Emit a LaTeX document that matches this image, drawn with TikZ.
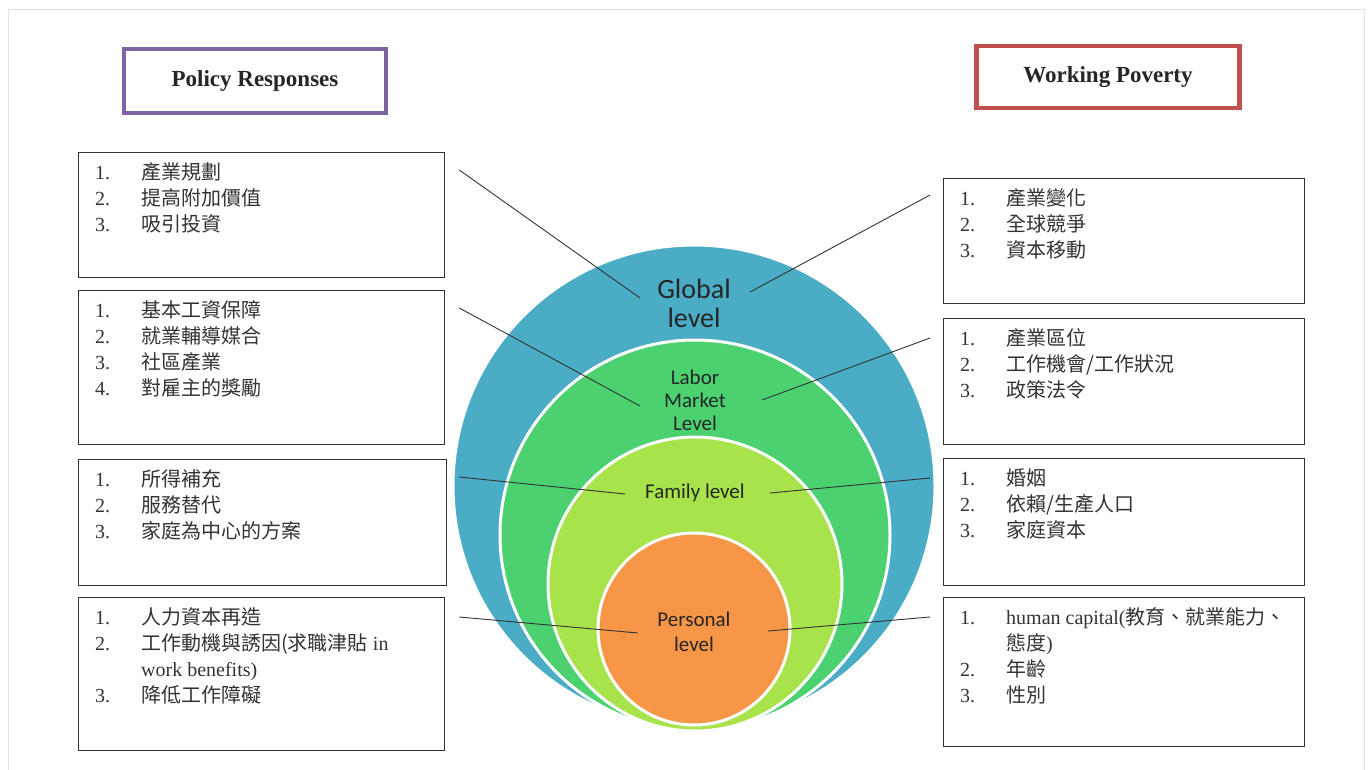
\documentclass[tikz,border=0pt]{standalone}
\usepackage{fontspec}
\setmainfont{Liberation Serif}
\newfontfamily\cjk{Noto Sans CJK TC}
\newfontfamily\calibri{Carlito}
\definecolor{globalblue}{HTML}{4BACC6}
\definecolor{laborgreen}{HTML}{4BD170}
\definecolor{familygreen}{HTML}{A8E34C}
\definecolor{personalorange}{HTML}{F79646}
\definecolor{policypurple}{HTML}{8064A2}
\definecolor{povertyred}{HTML}{C0504D}

\begin{document}
\begin{tikzpicture}
    [
      x=1pt,y=-1pt,
      listbox/.style={draw=black!80,line width=1.3pt,rectangle,anchor=north west,
        inner sep=0pt},
      listtext/.style={anchor=north west,inner sep=0pt,text=black!80,
        font=\fontsize{20}{26}\selectfont},
      titlebox/.style={rectangle,line width=4.5pt,fill=white,
        font=\bfseries\fontsize{23}{26}\selectfont,text=black!85},
      level/.style={circle,draw=white,line width=3pt,inner sep=0pt},
      leveltext/.style={align=center,inner sep=0pt,text=black!85},
      link/.style={draw=black!80,line width=0.9pt}
    ]

    \useasboundingbox (0,0) rectangle (1371,769);
    \draw [black!12,line width=1pt] (8,9) rectangle (1364,790);

    % titles
    \node at (255,81) [titlebox,draw=policypurple,minimum width=262,minimum height=64] (policy) {Policy Responses};
    \node at (1108,77) [titlebox,draw=povertyred,minimum width=263,minimum height=62] (poverty) {Working Poverty};

    % the four levels
    \node at (694,486) [level,fill=globalblue,minimum size=482] (global) {};
    \node at (695,535) [level,fill=laborgreen,minimum size=390] (labor) {};
    \node at (695,584) [level,fill=familygreen,minimum size=294] (family) {};
    \node at (694,629) [level,fill=personalorange,minimum size=192] (personal) {};

    \node at (694,303) [leveltext,font=\calibri\fontsize{28}{29}\selectfont] (globaltext) {Global\\level};
    \node at (695,400) [leveltext,font=\calibri\fontsize{21}{23}\selectfont] (labortext) {Labor\\Market\\Level};
    \node at (695,493) [leveltext,font=\calibri\fontsize{21}{23}\selectfont] (familytext) {Family level};
    \node at (694,632) [leveltext,font=\calibri\fontsize{21}{25}\selectfont] (personaltext) {Personal\\level};

    % policy responses
    \node at (78,152) [listbox,minimum width=366,minimum height=125] (pol1) {};
    \node at (78,290) [listbox,minimum width=366,minimum height=154] (pol2) {};
    \node at (78,459) [listbox,minimum width=368,minimum height=126] (pol3) {};
    \node at (78,597) [listbox,minimum width=366,minimum height=153] (pol4) {};

    \node at ([shift={(17,9)}]pol1.north west) [listtext] {
      \begin{tabular}{@{}p{46pt}@{}l@{}}
        1. & {\cjk 產業規劃} \\
        2. & {\cjk 提高附加價值} \\
        3. & {\cjk 吸引投資}
      \end{tabular}
    };
    \node at ([shift={(17,9)}]pol2.north west) [listtext] {
      \begin{tabular}{@{}p{46pt}@{}l@{}}
        1. & {\cjk 基本工資保障} \\
        2. & {\cjk 就業輔導媒合} \\
        3. & {\cjk 社區產業} \\
        4. & {\cjk 對雇主的獎勵}
      \end{tabular}
    };
    \node at ([shift={(17,9)}]pol3.north west) [listtext] {
      \begin{tabular}{@{}p{46pt}@{}l@{}}
        1. & {\cjk 所得補充} \\
        2. & {\cjk 服務替代} \\
        3. & {\cjk 家庭為中心的方案}
      \end{tabular}
    };
    \node at ([shift={(17,9)}]pol4.north west) [listtext] {
      \begin{tabular}{@{}p{46pt}@{}l@{}}
        1. & {\cjk 人力資本再造} \\
        2. & {\cjk 工作動機與誘因(求職津貼} in \\
           & work benefits) \\
        3. & {\cjk 降低工作障礙}
      \end{tabular}
    };

    % working poverty
    \node at (943,178) [listbox,minimum width=361,minimum height=125] (pov1) {};
    \node at (943,318) [listbox,minimum width=361,minimum height=126] (pov2) {};
    \node at (943,458) [listbox,minimum width=361,minimum height=127] (pov3) {};
    \node at (943,597) [listbox,minimum width=361,minimum height=149] (pov4) {};

    \node at ([shift={(17,9)}]pov1.north west) [listtext] {
      \begin{tabular}{@{}p{46pt}@{}l@{}}
        1. & {\cjk 產業變化} \\
        2. & {\cjk 全球競爭} \\
        3. & {\cjk 資本移動}
      \end{tabular}
    };
    \node at ([shift={(17,9)}]pov2.north west) [listtext] {
      \begin{tabular}{@{}p{46pt}@{}l@{}}
        1. & {\cjk 產業區位} \\
        2. & {\cjk 工作機會/工作狀況} \\
        3. & {\cjk 政策法令}
      \end{tabular}
    };
    \node at ([shift={(17,9)}]pov3.north west) [listtext] {
      \begin{tabular}{@{}p{46pt}@{}l@{}}
        1. & {\cjk 婚姻} \\
        2. & {\cjk 依賴/生產人口} \\
        3. & {\cjk 家庭資本}
      \end{tabular}
    };
    \node at ([shift={(17,9)}]pov4.north west) [listtext] {
      \begin{tabular}{@{}p{46pt}@{}l@{}}
        1. & human capital({\cjk 教育、就業能力、} \\
           & {\cjk 態度}) \\
        2. & {\cjk 年齡} \\
        3. & {\cjk 性別}
      \end{tabular}
    };

    % connectors
    \coordinate (globalL) at (640,298);
    \coordinate (globalR) at (750,292);
    \coordinate (laborL) at (640,406);
    \coordinate (laborR) at (762,400);
    \coordinate (familyL) at (625,494);
    \coordinate (familyR) at (770,493);
    \coordinate (personalL) at (638,633);
    \coordinate (personalR) at (768,631);

    \draw [link] ([shift={(14,18)}]pol1.north east) -- (globalL);
    \draw [link] ([shift={(14,18)}]pol2.north east) -- (laborL);
    \draw [link] ([shift={(12,18)}]pol3.north east) -- (familyL);
    \draw [link] ([shift={(14,20)}]pol4.north east) -- (personalL);
    \draw [link] ([shift={(-13,17)}]pov1.north west) -- (globalR);
    \draw [link] ([shift={(-13,20)}]pov2.north west) -- (laborR);
    \draw [link] ([shift={(-13,20)}]pov3.north west) -- (familyR);
    \draw [link] ([shift={(-13,20)}]pov4.north west) -- (personalR);
  \end{tikzpicture}
\end{document}
